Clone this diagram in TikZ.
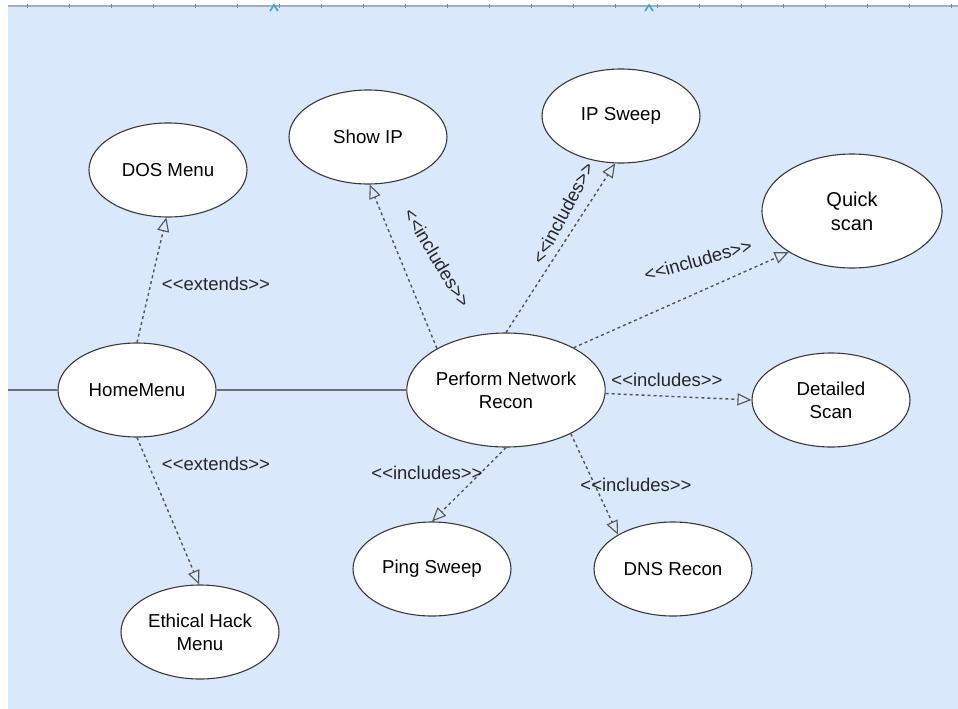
\documentclass[tikz,border=0pt]{standalone}
\usepackage{fontspec}
\setmainfont{Liberation Sans}[Ligatures=TeXOff]
\usetikzlibrary{arrows.meta,shapes.geometric}

\definecolor{canvas}{HTML}{DAE8FC}
\definecolor{rulergray}{HTML}{A3ACBA}
\definecolor{tickgray}{HTML}{7F8796}
\definecolor{markblue}{HTML}{2AA8EA}
\definecolor{assoc}{HTML}{6E6E78}
\definecolor{dep}{HTML}{555555}
\definecolor{outline}{HTML}{3A3A3A}

\tikzset{
  usecase/.style={ellipse, draw=outline, line width=1.1pt, fill=white,
    inner sep=0pt, align=center, minimum width=158pt, minimum height=94pt,
    font=\fontsize{18.7}{23}\selectfont},
  bigcase/.style={usecase, minimum width=180pt, minimum height=114pt},
  association/.style={draw=assoc, line width=1.8pt},
  dependency/.style={draw=dep, line width=1.4pt, dash pattern=on 3pt off 3pt,
    -{Triangle[open, length=14pt, width=12pt, line width=1.1pt]}},
  stereo/.style={font=\fontsize{18.5}{22}\selectfont, inner sep=1pt, text=black!85}
}

\begin{document}
\begin{tikzpicture}[x=1pt, y=-1pt]
  % page and canvas
  \useasboundingbox (0,0) rectangle (958,709);
  \fill[white] (0,0) rectangle (958,709);
  \fill[canvas] (8,6) rectangle (958,709);

  % ruler along the top edge
  \draw[rulergray, line width=2pt] (8,6) -- (958,6);
  \foreach \t in {0,...,22}
    \draw[tickgray, line width=1pt] (27+42*\t,4.5) -- (27+42*\t,8);
  \foreach \m in {274,649}
    \draw[markblue, line width=1.6pt] (\m-4,11) -- (\m,5) -- (\m+4,11);

  % use cases
  \node[usecase] (home)   at (137,390) {HomeMenu};
  \node[usecase] (dos)    at (168,170) {DOS Menu};
  \node[usecase] (ethic)  at (200,632) {Ethical Hack\\Menu};
  \node[usecase] (showip) at (368,137) {Show IP};
  \node[usecase] (ipsw)   at (621,116) {IP Sweep};
  \node[bigcase, font=\fontsize{20}{24}\selectfont] (quick) at (852,211) {Quick\\scan};
  \node[bigcase] (recon)  at (506,390) {Perform Network\\Recon};
  \node[usecase] (detail) at (831,400) {Detailed\\Scan};
  \node[usecase] (ping)   at (432,569) {Ping Sweep};
  \node[usecase] (dns)    at (673,569) {DNS Recon};

  % associations
  \coordinate (actor) at (8,390);
  \draw[association] (actor) -- (home.west);
  \draw[association] (home.east) -- (recon.west);

  % extends
  \draw[dependency] (home.90) -- (dos.-92);
  \draw[dependency] (home.-90) -- (ethic.91);
  \node[stereo] (ext1) at (216,284) {<<extends>>};
  \node[stereo] (ext2) at (216,464) {<<extends>>};

  % includes
  \draw[dependency] (recon.149) -- (showip.-88);
  \draw[dependency] (recon.90) -- (ipsw.-97);
  \draw[dependency] (recon.32) -- (quick.213);
  \draw[dependency] (recon.-2) -- (detail.180);
  \draw[dependency] (recon.-90) -- (ping.90);
  \draw[dependency] (recon.-34) -- (dns.148);

  \node[stereo, rotate=-59] (inc1) at (437,258) {<<includes>>};
  \node[stereo, rotate=62]  (inc2) at (563,213) {<<includes>>};
  \node[stereo, rotate=16]  (inc3) at (698,260) {<<includes>>};
  \node[stereo] (inc4) at (667,380) {<<includes>>};
  \node[stereo] (inc5) at (427,473) {<<includes>>};
  \node[stereo] (inc6) at (636,485) {<<includes>>};
\end{tikzpicture}
\end{document}
